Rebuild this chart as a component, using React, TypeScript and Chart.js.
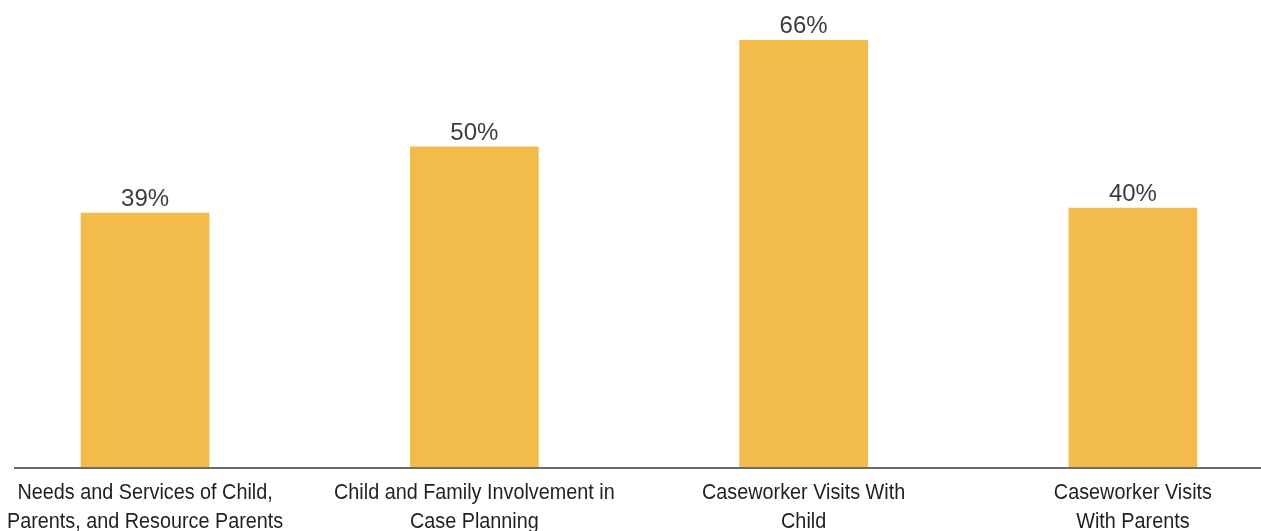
import React, { useEffect, useRef } from "react";
import { Chart, registerables } from "chart.js";

Chart.register(...registerables);

const categories: string[][] = [
  ["Needs and Services of Child,", "Parents, and Resource Parents"],
  ["Child and Family Involvement in", "Case Planning"],
  ["Caseworker Visits With", "Child"],
  ["Caseworker Visits", "With Parents"],
];
// bar heights (labels show the rounded published figures)
const values: number[] = [39.2, 49.4, 65.8, 40.0];
const valueLabels: string[] = ["39%", "50%", "66%", "40%"];

const BAR_COLOR = "#F2BB4A";

const valueLabelPlugin = {
  id: "valueLabels",
  afterDatasetsDraw(chart: any) {
    const ctx = chart.ctx;
    const meta = chart.getDatasetMeta(0);
    ctx.save();
    ctx.font = "24px 'Liberation Sans', Arial, sans-serif";
    ctx.fillStyle = "#3d3d3d";
    ctx.textAlign = "center";
    ctx.textBaseline = "alphabetic";
    meta.data.forEach((bar: any, i: number) => {
      ctx.fillText(valueLabels[i], bar.x, bar.y - 7);
    });
    ctx.restore();
  },
};

// Condensed category labels (drawn as real canvas text, horizontally compressed)
const categoryLabelPlugin = {
  id: "categoryLabels",
  afterDraw(chart: any) {
    const ctx = chart.ctx;
    const xScale = chart.scales.x;
    const base = chart.chartArea.bottom;
    const squeeze = 0.9;
    ctx.save();
    ctx.font = "22px 'Liberation Sans', Arial, sans-serif";
    ctx.fillStyle = "#231f20";
    ctx.textAlign = "center";
    ctx.textBaseline = "alphabetic";
    categories.forEach((lines, i) => {
      const cx = xScale.getPixelForValue(i);
      lines.forEach((line, j) => {
        ctx.save();
        ctx.translate(cx, base + 31 + j * 29);
        ctx.scale(squeeze, 1);
        ctx.fillText(line, 0, 0);
        ctx.restore();
      });
    });
    ctx.restore();
  },
};

export default function App() {
  const ref = useRef<HTMLCanvasElement | null>(null);
  useEffect(() => {
    if (!ref.current) return;
    const chart = new Chart(ref.current, {
      type: "bar",
      data: {
        datasets: [
          {
            data: values.map((v, i) => ({ x: i, y: v })),
            backgroundColor: BAR_COLOR,
            barThickness: 128,
            borderWidth: 0,
          },
        ],
      },
      options: {
        animation: false,
        responsive: true,
        maintainAspectRatio: false,
        layout: { padding: { left: 15, right: 0, top: 0, bottom: 0 } },
        plugins: { legend: { display: false }, tooltip: { enabled: false } },
        scales: {
          x: {
            type: "linear",
            offset: false,
            min: -0.395,
            max: 3.389,
            grid: { display: false, drawTicks: false, offset: false },
            border: { display: true, color: "#6b6b6b", width: 2, z: 1 },
            afterBuildTicks: (scale: any) => {
              scale.ticks = categories.map((_, i) => ({ value: i }));
            },
            afterFit: (scale: any) => {
              scale.height = 63;
            },
            ticks: { display: false },
          },
          y: {
            display: false,
            min: 0,
            max: 72.0,
          },
        },
      },
      plugins: [valueLabelPlugin, categoryLabelPlugin],
    });
    return () => chart.destroy();
  }, []);
  return (
    <div style={{ position: "fixed", left: 0, top: 0, width: 1261, height: 531, background: "#fff" }}>
      <canvas ref={ref} />
    </div>
  );
}
